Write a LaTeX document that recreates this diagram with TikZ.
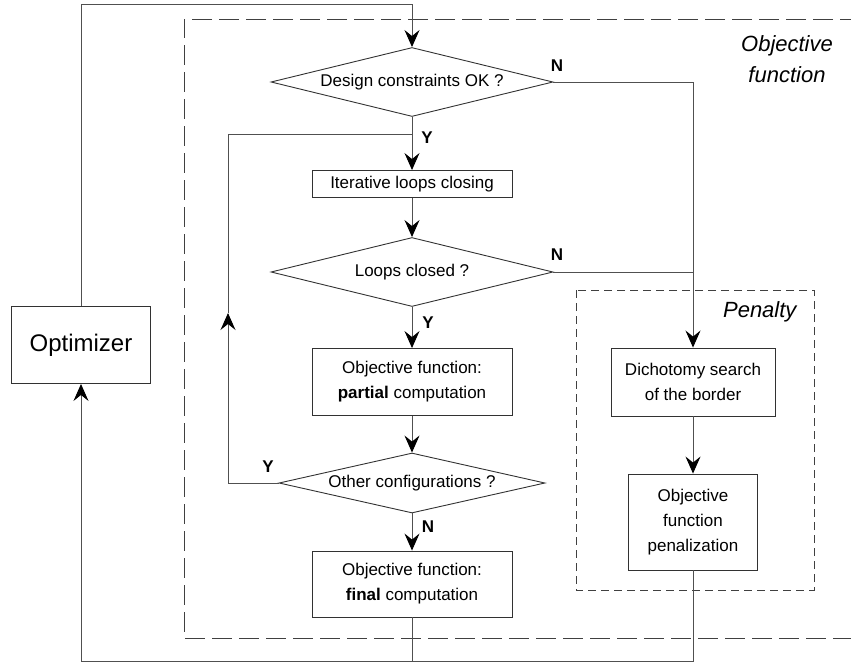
\documentclass[tikz,border=0pt]{standalone}
\usepackage{fontspec}
\setmainfont{Liberation Sans}
\usepackage{tikz}
\usetikzlibrary{arrows.meta,positioning,shapes.geometric,calc}
\usepackage{xcolor}
\definecolor{linecolor}{RGB}{80,80,80}
\definecolor{boxcolor}{RGB}{50,50,50}

\tikzset{
  box/.style={draw=boxcolor,line width=0.9pt,rectangle,inner sep=2pt,align=center,
    font=\fontsize{17}{25}\selectfont},
  decision/.style={draw=boxcolor,line width=0.9pt,diamond,shape aspect=4,inner sep=0pt,
    align=center,font=\fontsize{17}{20}\selectfont},
  flow/.style={draw=linecolor,line width=1pt},
  arr/.style={flow,-{Stealth[length=17pt,width=15pt,inset=6pt,color=black]}},
  yn/.style={font=\fontsize{17}{20}\selectfont\bfseries},
  frame/.style={draw=black!75,line width=1pt,dash pattern=on 20pt off 7pt},
  subframe/.style={draw=black!75,line width=1pt,dash pattern=on 8pt off 5pt},
}

\begin{document}
\begin{tikzpicture}[x=1pt,y=-1pt]
        \useasboundingbox (0,0) rectangle (851,662);
        % Frames
        \draw[frame] (860,19) -- (184,19) -- (184,638) -- (860,638);
        \draw[subframe] (576,290) rectangle (814,590);
        \node[font=\fontsize{22}{31}\selectfont\itshape,align=center] (objlbl) at (787,59) {Objective\\function};
        \node[font=\fontsize{22}{26}\selectfont\itshape,anchor=east] (penlbl) at (800,312) {Penalty};
        % Optimizer
        \node[box,minimum width=139pt,minimum height=77pt,font=\fontsize{24}{28}\selectfont] (opt) at (81,345) {Optimizer};
        % Main flow
        \node[decision,minimum width=282pt,minimum height=69pt] (dc)  at (412,82)  {Design constraints OK ?};
        \node[box,minimum width=200pt,minimum height=27pt]      (ilc) at (412,184) {Iterative loops closing};
        \node[decision,minimum width=282pt,minimum height=69pt] (lc)  at (412,272) {Loops closed ?};
        \node[box,minimum width=200pt,minimum height=67pt]      (ofp) at (412,382) {Objective function:\\\textbf{partial} computation};
        \node[decision,minimum width=266pt,minimum height=60pt] (oc)  at (412,483) {Other configurations ?};
        \node[box,minimum width=200pt,minimum height=66pt]      (off) at (412,584) {Objective function:\\\textbf{final} computation};
        % Penalty branch
        \node[box,minimum width=164pt,minimum height=68pt] (dich) at (693,382) {Dichotomy search\\of the border};
        \node[box,minimum width=129pt,minimum height=96pt] (pen)  at (693,522) {Objective\\function\\penalization};
        % Helper points
        \coordinate (top)   at (412,4);
        \coordinate (join)  at (412,134);
        \coordinate (loopx) at (228,313);
        \coordinate (bot)   at (81,661);
        % Connectors
        \draw[arr] (opt.north) |- (top) -- (dc.north);
        \draw[arr] (dc.south) -- (ilc.north);
        \draw[arr] (ilc.south) -- (lc.north);
        \draw[arr] (lc.south) -- (ofp.north);
        \draw[arr] (ofp.south) -- (oc.north);
        \draw[arr] (oc.south) -- (off.north);
        \draw[arr] (oc.west) -| (loopx);
        \draw[flow] (loopx) |- (join);
        \draw[arr] (dc.east) -| (dich.north);
        \draw[flow] (lc.east) -- (lc.east -| dich.north);
        \draw[arr] (dich.south) -- (pen.north);
        \draw[flow] (pen.south) |- (off.south |- bot);
        \draw[arr] (off.south) -- (off.south |- bot) -| (opt.south);
        % Labels
        \node[yn] (n1) at (557,66)  {N};
        \node[yn] (y1) at (427,138) {Y};
        \node[yn] (n2) at (557,255) {N};
        \node[yn] (y2) at (428,323) {Y};
        \node[yn] (y3) at (268,467) {Y};
        \node[yn] (n3) at (428,527) {N};
\end{tikzpicture}
\end{document}
